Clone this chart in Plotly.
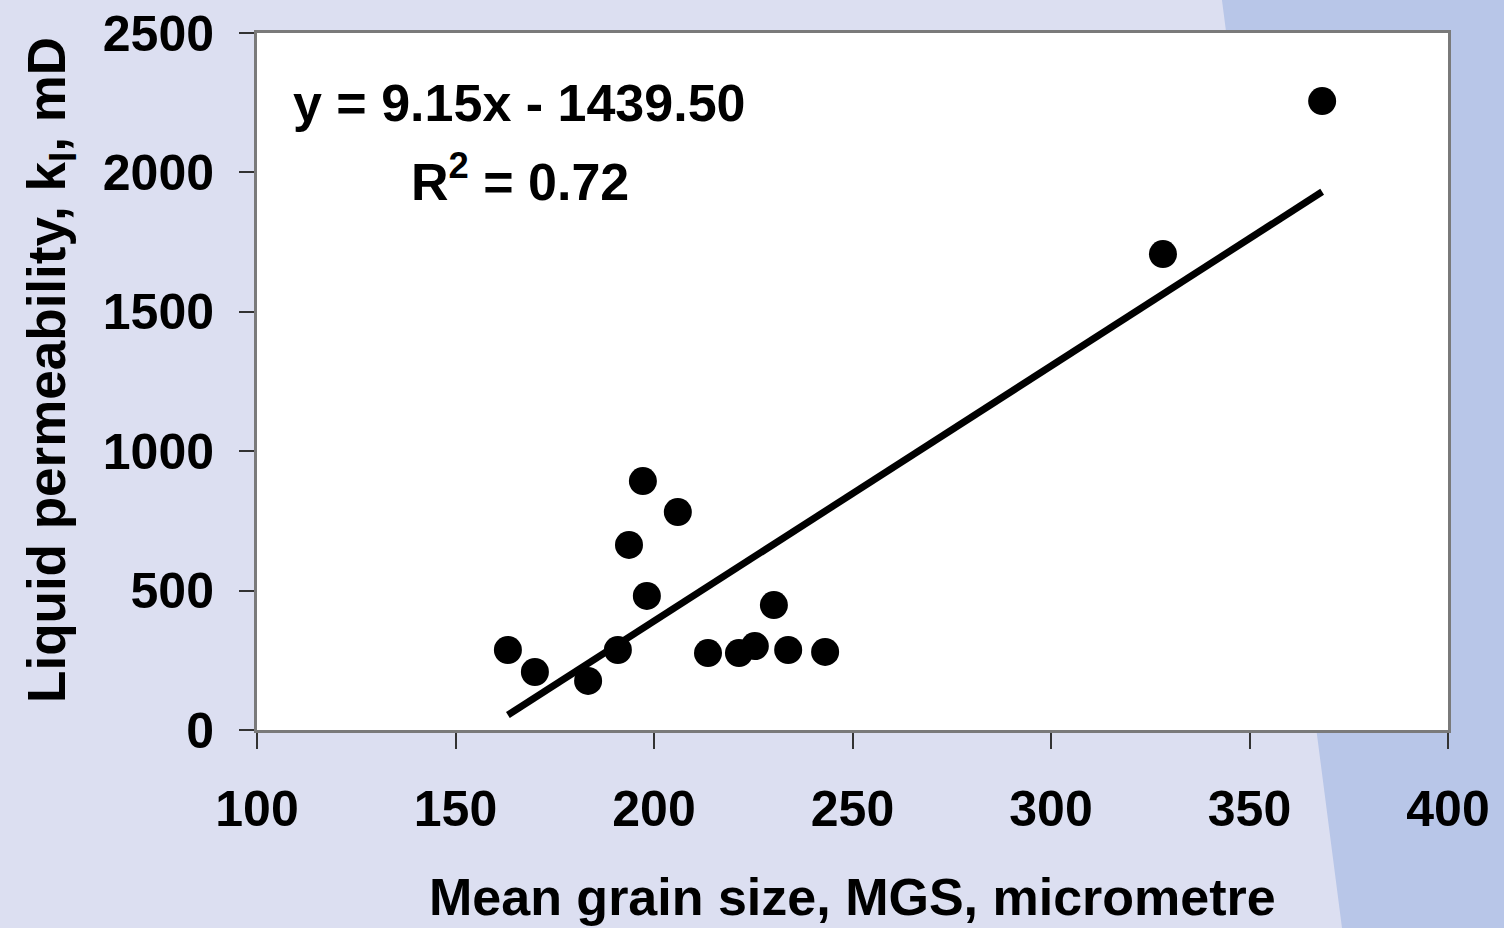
import plotly.graph_objects as go

# Data
mgs_um = [163.2, 170.0, 183.4, 190.9, 193.7, 197.2, 198.2, 206.0,
          213.6, 221.4, 225.4, 230.2, 233.8, 243.1, 328.2, 368.3]
perm_md = [287, 208, 176, 287, 664, 893, 481, 782,
           276, 276, 301, 448, 287, 280, 1707, 2256]

slope = 9.15
intercept = -1439.50
r_squared = 0.72

x_ticks = [100, 150, 200, 250, 300, 350, 400]
y_ticks = [0, 500, 1000, 1500, 2000, 2500]

FONT = "Arial, Liberation Sans, sans-serif"
BG_LIGHT = "#DCDFF1"
BG_BLUE = "#B8C6E8"

fit_x = [min(mgs_um), max(mgs_um)]
fit_y = [slope * v + intercept for v in fit_x]

fig = go.Figure()
fig.add_trace(go.Scatter(
    x=fit_x, y=fit_y, mode="lines",
    line=dict(color="black", width=7),
    showlegend=False, hoverinfo="skip"))
fig.add_trace(go.Scatter(
    x=mgs_um, y=perm_md, mode="markers",
    marker=dict(color="black", size=28),
    showlegend=False))

fig.update_layout(
    width=1504, height=928,
    margin=dict(l=257, r=56, t=33, b=198, autoexpand=False),
    paper_bgcolor=BG_LIGHT,
    plot_bgcolor="white",
    font=dict(family=FONT, color="black"),
    shapes=[
        dict(type="path", xref="paper", yref="paper", layer="below",
             path="M 0.8102 1.1 L 0.8102 1.0473 L 0.911 -0.2841 L 0.911 -0.4 L 1.2 -0.4 L 1.2 1.1 Z",
             fillcolor=BG_BLUE, line=dict(width=0)),
        dict(type="rect", xref="paper", yref="paper", layer="below",
             x0=0, x1=1, y0=0, y1=1, fillcolor="white", line=dict(width=0)),
    ],
)

fig.update_xaxes(
    range=[100, 400], tickvals=x_ticks, ticktext=[str(v) for v in x_ticks],
    showgrid=False, zeroline=False,
    showline=True, linecolor="#7a7a7a", linewidth=3, mirror=True,
    ticks="outside", ticklen=16, tickwidth=1.5, tickcolor="#333333",
    tickfont=dict(family=FONT, size=50, weight="bold", color="black"),
    ticklabelstandoff=17,
)
fig.update_yaxes(
    range=[0, 2500], tickvals=y_ticks, ticktext=[str(v) for v in y_ticks],
    showgrid=False, zeroline=False,
    showline=True, linecolor="#7a7a7a", linewidth=3, mirror=True,
    ticks="outside", ticklen=15, tickwidth=1.5, tickcolor="#333333",
    tickfont=dict(family=FONT, size=50, weight="bold", color="black"),
    ticklabelstandoff=15,
)

annots = [
    dict(text="y = %.2fx - %.2f" % (slope, -intercept), x=0.2208, y=0.8996),
    dict(text="R<sup>2</sup> = %.2f" % r_squared, x=0.2208, y=0.792),
    dict(text="Mean grain size, MGS, micrometre", x=0.5, y=-0.2396),
]
for a in annots:
    fig.add_annotation(xref="paper", yref="paper", showarrow=False,
                       xanchor="center", yanchor="middle",
                       font=dict(family=FONT, size=52, weight="bold", color="black"),
                       **a)
fig.add_annotation(xref="paper", yref="paper", showarrow=False,
                   x=-0.1730, y=0.5165, xanchor="center", yanchor="middle",
                   textangle=-90,
                   text="Liquid permeability, k<sub>l</sub>, mD",
                   font=dict(family=FONT, size=53, weight="bold", color="black"))

fig.write_html("out.html")
